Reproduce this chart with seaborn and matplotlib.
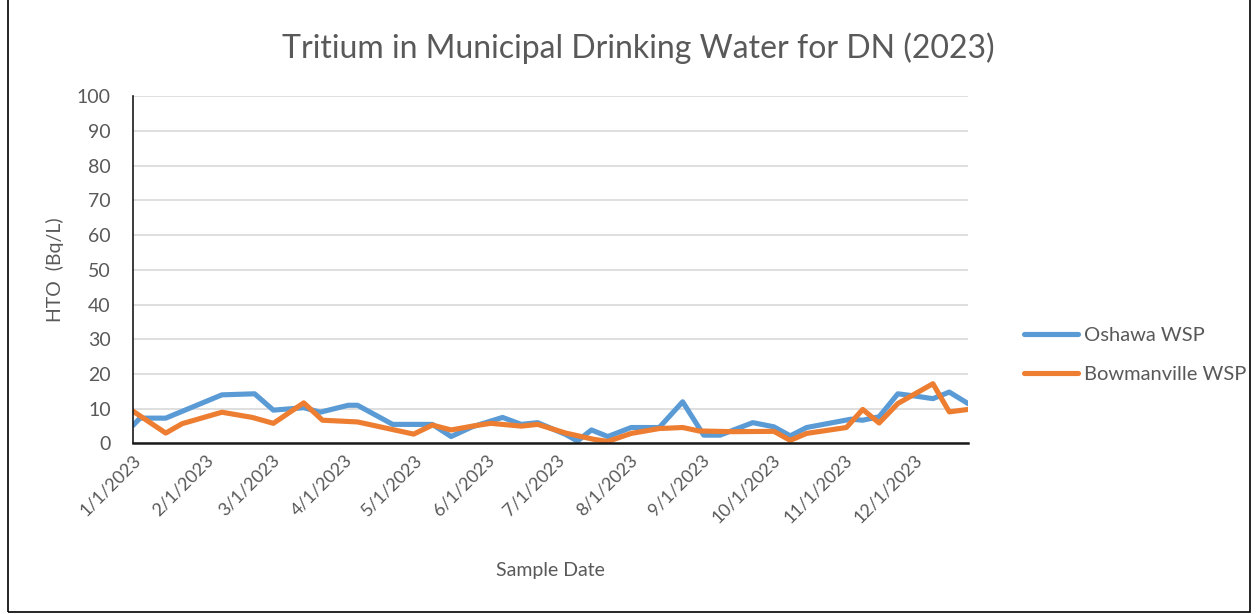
import pandas as pd
import numpy as np
import matplotlib
matplotlib.use('Agg')
import matplotlib.pyplot as plt
from matplotlib.patches import Rectangle
import seaborn as sns

# Sample dates and HTO values
oshawa_dates = ['2023-01-01', '2023-01-04', '2023-01-15', '2023-02-08', '2023-02-22', '2023-03-02',
                '2023-03-15', '2023-03-22', '2023-04-03', '2023-04-07', '2023-04-22', '2023-05-09',
                '2023-05-17', '2023-05-26', '2023-06-08', '2023-06-16', '2023-06-23', '2023-07-05',
                '2023-07-10', '2023-07-16', '2023-07-23', '2023-08-02', '2023-08-14', '2023-08-24',
                '2023-09-02', '2023-09-09', '2023-09-23', '2023-10-02', '2023-10-09', '2023-10-16',
                '2023-11-04', '2023-11-09', '2023-11-16', '2023-11-24', '2023-12-02', '2023-12-09',
                '2023-12-16', '2023-12-24']
oshawa_hto = [5.2, 7.3, 7.3, 14.0, 14.3, 9.6,
              10.3, 9.0, 11.0, 11.0, 5.5, 5.5,
              2.0, 4.8, 7.5, 5.5, 6.0, 2.6,
              0.7, 3.9, 2.0, 4.6, 4.6, 12.0,
              2.4, 2.4, 6.0, 4.8, 2.2, 4.6,
              7.0, 6.7, 7.7, 14.3, 13.6, 12.9,
              14.8, 11.5]

bowman_dates = ['2023-01-01', '2023-01-15', '2023-01-22', '2023-02-08', '2023-02-21', '2023-03-02',
                '2023-03-15', '2023-03-23', '2023-04-07', '2023-05-01', '2023-05-09', '2023-05-17',
                '2023-05-27', '2023-06-03', '2023-06-16', '2023-06-23', '2023-07-05', '2023-07-17',
                '2023-07-23', '2023-08-02', '2023-08-14', '2023-08-24', '2023-08-31', '2023-09-15',
                '2023-10-02', '2023-10-09', '2023-10-16', '2023-11-02', '2023-11-09', '2023-11-16',
                '2023-11-24', '2023-12-09', '2023-12-16', '2023-12-24']
bowman_hto = [9.3, 3.0, 5.7, 9.0, 7.5, 5.8,
              11.7, 6.7, 6.2, 2.7, 5.3, 3.9,
              5.1, 5.8, 5.0, 5.5, 3.0, 1.2,
              0.6, 2.9, 4.3, 4.6, 3.6, 3.4,
              3.5, 0.9, 2.9, 4.6, 9.8, 5.9,
              11.5, 17.2, 9.1, 9.8]

series_names = ['Oshawa WSP', 'Bowmanville WSP']
series_colors = ['#5B9BD5', '#ED7D31']
month_ticks = pd.date_range('2023-01-01', '2023-12-01', freq='MS')
y_ticks = list(range(0, 101, 10))

df = pd.concat([
    pd.DataFrame({'date': pd.to_datetime(oshawa_dates), 'HTO': oshawa_hto, 'site': series_names[0]}),
    pd.DataFrame({'date': pd.to_datetime(bowman_dates), 'HTO': bowman_hto, 'site': series_names[1]}),
])

sns.set_style('white')
plt.rcParams['font.family'] = ['Lato', 'DejaVu Sans']
grey = '#595959'

fig = plt.figure(figsize=(12.56, 6.14), dpi=100)
ax = fig.add_axes([0.1059, 0.2777, 0.7707 - 0.1059, 0.8436 - 0.2777])

sns.lineplot(data=df, x='date', y='HTO', hue='site', hue_order=series_names,
             palette=series_colors, linewidth=3.7, ax=ax, estimator=None, sort=True)

ax.set_ylim(0, 100)
ax.set_yticks(y_ticks)
ax.set_xlim(pd.Timestamp('2023-01-01'), pd.Timestamp('2023-12-24'))
ax.set_xticks(month_ticks)
ax.set_xticklabels([f'{d.month}/{d.day}/{d.year}' for d in month_ticks],
                   rotation=45, ha='right', rotation_mode='anchor', fontsize=13, color=grey)
ax.tick_params(axis='y', labelsize=14, labelcolor=grey, length=0, pad=16)
ax.tick_params(axis='x', length=0, pad=6)
ax.yaxis.grid(True, color='#d9d9d9', linewidth=1.2)
ax.set_axisbelow(True)
for side in ['top', 'right']:
    ax.spines[side].set_visible(False)
ax.spines['bottom'].set_color('#1a1a1a')
ax.spines['bottom'].set_linewidth(1.8)
ax.spines['left'].set_color('#1a1a1a')
ax.spines['left'].set_linewidth(1.2)

ax.set_xlabel('Sample Date', fontsize=14, color=grey, labelpad=26)
ax.set_ylabel('HTO  (Bq/L)', fontsize=14, color=grey, labelpad=9)
fig.suptitle('Tritium in Municipal Drinking Water for DN (2023)', fontsize=23, color=grey,
             x=0.508, y=0.947)

leg = ax.legend(loc='center left', bbox_to_anchor=(1.045, 0.255), frameon=False,
                fontsize=14.5, handlelength=2.7, labelspacing=1.05, handletextpad=0.3)
for line in leg.get_lines():
    line.set_linewidth(3.7)
for t in leg.get_texts():
    t.set_color(grey)

fig.patches.append(Rectangle((0.006, 0.003), 0.989, 1.1, transform=fig.transFigure,
                             fill=False, edgecolor='black', linewidth=1.2))

fig.savefig('out.png', dpi=100)
